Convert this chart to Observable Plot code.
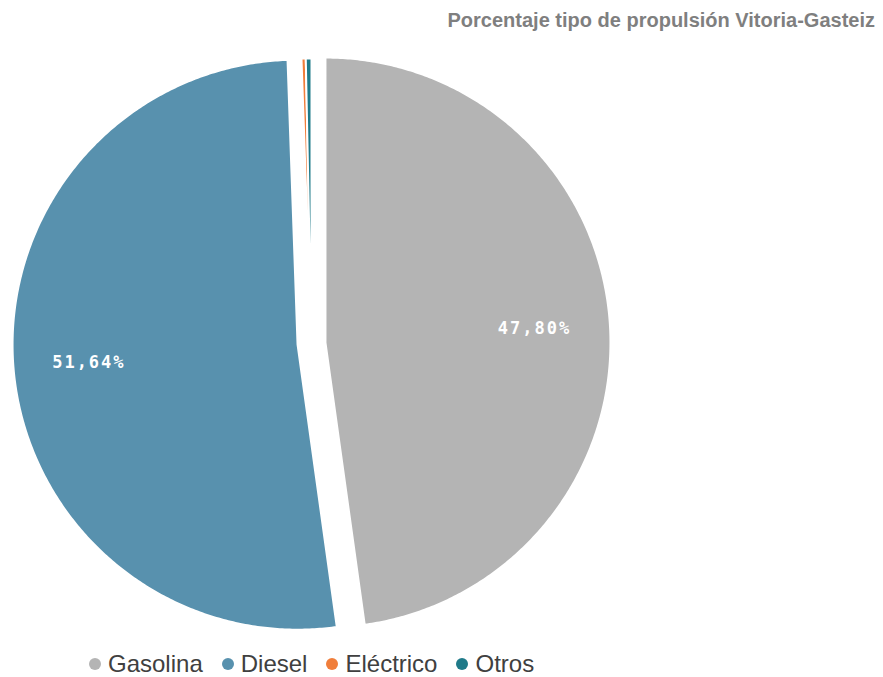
<!DOCTYPE html>
<html>
<head>
<meta charset="utf-8">
<script src="https://cdn.jsdelivr.net/npm/d3@7"></script>
<script src="https://cdn.jsdelivr.net/npm/@observablehq/plot@0.6"></script>
<style>
  html, body { margin: 0; padding: 0; background: #fff; }
  #wrap { position: relative; width: 883px; height: 677px; overflow: hidden; font-family: "Liberation Sans", Arial, sans-serif; }
  #title { position: absolute; top: 10px; right: 8px; font-size: 20px; line-height: 20px; font-weight: bold; color: #7f7f7f; white-space: nowrap; }
  #chart { position: absolute; top: 40px; left: 0; }
  #chart text { letter-spacing: 2px; }
  #legend { position: absolute; top: 652px; left: 89px; display: flex; align-items: center; font-size: 24px; line-height: 24px; color: #404040; white-space: nowrap; }
  .item { display: flex; align-items: center; margin-right: 19px; }
  .dot { width: 12px; height: 12px; border-radius: 50%; margin-right: 7px; }
</style>
</head>
<body>
<div id="wrap">
  <div id="title"></div>
  <div id="chart"></div>
  <div id="legend"></div>
</div>
<script>
// ---- data ----
const title = "Porcentaje tipo de propulsión Vitoria-Gasteiz";
const categories = ["Gasolina", "Diesel", "Eléctrico", "Otros"];
const values = [47.80, 51.64, 0.24, 0.32];
const valueLabels = ["47,80%", "51,64%", "", ""];
const colors = ["#b4b4b4", "#5891ae", "#f07e3b", "#1f7a89"];
const exploded = ["Gasolina", "Diesel"];

// ---- layout ----
const W = 883, H = 605, R = 285, CX = 311, CY = 303;
const explodeOffset = 14 / R;
const labelRadius = 0.735;

const rows = categories.map((c, i) => ({cat: c, value: values[i], label: valueLabels[i]}));
const arcs = d3.pie().sort(null).value(d => d.value)(rows);

const polys = [];
const labelPts = [];
for (const a of arcs) {
  const mid = (a.startAngle + a.endAngle) / 2;
  const off = exploded.includes(a.data.cat) ? explodeOffset : 0;
  const ox = off * Math.sin(mid), oy = off * Math.cos(mid);
  const pts = [{cat: a.data.cat, x: ox, y: oy}];
  const n = Math.max(2, Math.ceil((a.endAngle - a.startAngle) / (Math.PI / 360)));
  for (let k = 0; k <= n; k++) {
    const t = a.startAngle + (a.endAngle - a.startAngle) * k / n;
    pts.push({cat: a.data.cat, x: ox + Math.sin(t), y: oy + Math.cos(t)});
  }
  pts.push({cat: a.data.cat, x: ox, y: oy});
  polys.push(...pts);
  if (a.data.label) {
    labelPts.push({label: a.data.label, x: ox + labelRadius * Math.sin(mid), y: oy + labelRadius * Math.cos(mid)});
  }
}

const chart = Plot.plot({
  width: W, height: H,
  marginTop: 0, marginRight: 0, marginBottom: 0, marginLeft: 0,
  x: {domain: [-CX / R, (W - CX) / R], axis: null},
  y: {domain: [-(H - CY) / R, CY / R], axis: null},
  color: {domain: categories, range: colors},
  marks: [
    Plot.line(polys, {x: "x", y: "y", z: "cat", fill: "cat", stroke: "white", strokeWidth: 2, curve: "linear"}),
    Plot.text(labelPts, {x: "x", y: "y", text: "label", fill: "white", fontSize: 17, fontWeight: "bold",
      fontFamily: "DejaVu Sans Mono, monospace"})
  ]
});
document.getElementById("chart").appendChild(chart);
document.getElementById("title").textContent = title;

const legend = document.getElementById("legend");
categories.forEach((c, i) => {
  const item = document.createElement("div");
  item.className = "item";
  const dot = document.createElement("span");
  dot.className = "dot";
  dot.style.background = colors[i];
  const txt = document.createElement("span");
  txt.textContent = c;
  item.appendChild(dot); item.appendChild(txt);
  legend.appendChild(item);
});
</script>
</body>
</html>
